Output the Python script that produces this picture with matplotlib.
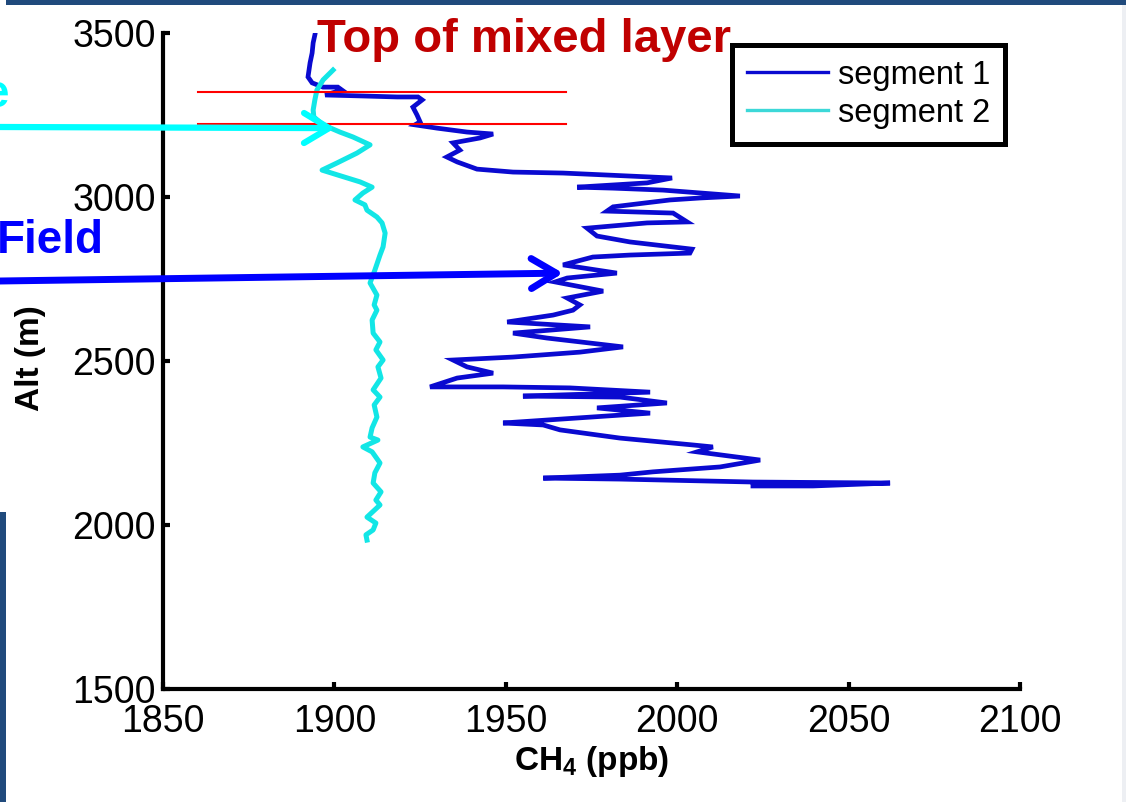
import matplotlib
matplotlib.use("Agg")
import matplotlib.pyplot as plt
from matplotlib.patches import Rectangle
from matplotlib.lines import Line2D

plt.rcParams['font.family'] = ['Liberation Sans', 'DejaVu Sans']
plt.rcParams['mathtext.default'] = 'regular'

# segment 1 profile (CH4 ppb vs altitude m), read top -> bottom
seg1_ch4 = [1894.3, 1893.8, 1893.5, 1892.9, 1892.3, 1893.5, 1896.7, 1901.0, 1902.2, 1897.3,
            1908.3, 1918.3, 1924.4, 1925.6, 1922.9, 1924.1, 1925.0, 1923.5, 1929.9, 1938.7,
            1946.3, 1942.5, 1934.6, 1936.6, 1932.8, 1935.8, 1941.6, 1952.1, 1966.7, 1979.5,
            1998.5, 1991.2, 1970.8, 1981.3, 1995.9, 2018.3, 2006.7, 1997.9, 1981.3, 1979.5,
            1998.8, 2002.9, 1991.2, 1973.7, 1976.6, 1986.2, 2004.3, 2003.7, 1986.2, 1975.4,
            1966.7, 1982.4, 1967.9, 1964.4, 1978.4, 1967.9, 1971.6, 1969.6, 1963.8, 1950.4,
            1974.6, 1952.1, 1962.0, 1984.2, 1971.6, 1952.1, 1934.6, 1938.7, 1946.3, 1935.8,
            1927.9, 1949.2, 1968.7, 1992.1, 1955.0, 1983.3, 1997.0, 1976.6, 1992.1, 1983.3,
            1949.2, 1960.9, 1965.8, 1983.3, 2004.6, 2010.4, 2005.8, 2024.2, 2012.5, 1992.9,
            1983.3, 1960.9, 1983.3, 2022.1, 2062.1, 2039.6, 2022.1]
seg1_alt = [3494, 3470, 3439, 3409, 3366, 3348, 3335, 3335, 3326, 3311,
            3308, 3305, 3305, 3296, 3274, 3250, 3229, 3220, 3210, 3198,
            3192, 3180, 3165, 3143, 3122, 3107, 3085, 3076, 3073, 3067,
            3058, 3043, 3030, 3027, 3021, 3003, 2997, 2991, 2970, 2957,
            2951, 2924, 2921, 2905, 2881, 2863, 2841, 2829, 2823, 2817,
            2793, 2768, 2753, 2741, 2713, 2692, 2671, 2655, 2640, 2619,
            2604, 2585, 2570, 2543, 2527, 2512, 2503, 2482, 2463, 2448,
            2421, 2421, 2418, 2405, 2393, 2390, 2372, 2357, 2341, 2335,
            2311, 2305, 2290, 2265, 2244, 2238, 2223, 2198, 2177, 2162,
            2152, 2143, 2140, 2131, 2128, 2119, 2119]

# segment 2 profile
seg2_ch4 = [1899.6, 1896.7, 1894.9, 1894.3, 1893.8, 1894.0, 1896.7, 1901.6, 1905.4, 1910.4,
            1906.6, 1900.8, 1896.4, 1901.0, 1907.5, 1911.0, 1908.3, 1906.0, 1908.9, 1909.5,
            1912.4, 1913.9, 1914.8, 1914.2, 1913.3, 1911.8, 1910.4, 1912.4, 1911.6, 1912.4,
            1911.0, 1911.3, 1913.3, 1912.1, 1914.2, 1912.7, 1913.6, 1911.3, 1913.3, 1911.6,
            1912.4, 1911.0, 1910.4, 1912.7, 1908.3, 1911.0, 1913.3, 1911.8, 1911.3, 1913.6,
            1912.1, 1913.3, 1909.5, 1912.1, 1911.3, 1909.2, 1909.5]
seg2_alt = [3387, 3357, 3326, 3296, 3265, 3244, 3220, 3198, 3183, 3159,
            3134, 3104, 3082, 3067, 3046, 3030, 3012, 2991, 2976, 2960,
            2939, 2921, 2890, 2848, 2823, 2777, 2738, 2701, 2671, 2655,
            2625, 2585, 2558, 2534, 2503, 2482, 2448, 2412, 2390, 2366,
            2329, 2296, 2268, 2259, 2238, 2223, 2189, 2159, 2128, 2101,
            2076, 2061, 2024, 2006, 1985, 1970, 1954]

labels = ['segment 1', 'segment 2']
mixed_layer_alt = [3320, 3223]
mixed_layer_x = [1860.2, 1967.6]

W, H = 1126, 802
fig = plt.figure(figsize=(W / 100, H / 100), dpi=100)
fig.patch.set_facecolor('white')

# slide border bits
navy = '#204A7C'
fig.add_artist(Rectangle((6 / W, 1 - 5 / H), 1, 5 / H, transform=fig.transFigure, color=navy, lw=0))
fig.add_artist(Rectangle((0, 0), 6 / W, 290 / H, transform=fig.transFigure, color=navy, lw=0))
fig.add_artist(Rectangle((1122 / W, 0), 4 / W, 1 - 5 / H, transform=fig.transFigure, color='#EDEFF3', lw=0))

ax = fig.add_axes([163 / W, 1 - 689 / H, 857 / W, 656 / H])
ax.plot(seg1_ch4, seg1_alt, color='#0A0AD0', lw=3.4, solid_joinstyle='miter')
ax.plot(seg2_ch4, seg2_alt, color='#12E6E6', lw=3.6)

for a in mixed_layer_alt:
    ax.plot(mixed_layer_x, [a, a], color='#FF0000', lw=1.5)

ax.set_xlim(1850, 2100)
ax.set_ylim(1500, 3500)
ax.set_xticks([1850, 1900, 1950, 2000, 2050, 2100])
ax.set_yticks([1500, 2000, 2500, 3000, 3500])
for s in ['top', 'right']:
    ax.spines[s].set_visible(False)
for s in ['left', 'bottom']:
    ax.spines[s].set_linewidth(3)
    ax.spines[s].set_capstyle('projecting')
ax.tick_params(direction='in', length=5, width=3, labelsize=27)
ax.tick_params(axis='x', pad=10.5)
ax.tick_params(axis='y', pad=5)

ax.set_xlabel(r'CH$_4$ (ppb)', fontsize=24, fontweight='bold')
ax.set_ylabel('Alt (m)', fontsize=24, fontweight='bold')
ax.xaxis.set_label_coords(0.5, -0.084)
ax.yaxis.set_label_coords(-0.137, 0.505)

handles = [Line2D([], [], color='#0A0AD0', lw=2.4), Line2D([], [], color='#3CD8D8', lw=2.4)]
leg = fig.legend(handles, labels, loc='upper left', bbox_to_anchor=(732 / W, 1 - 45 / H),
                 bbox_transform=fig.transFigure, borderaxespad=0, fontsize=23.5,
                 handlelength=2.5, handletextpad=0.3, labelspacing=0.22,
                 borderpad=0.45, fancybox=False, framealpha=1)
leg.get_frame().set_edgecolor('black')
leg.get_frame().set_linewidth(3.6)

# annotations
fig.text(317 / W, 1 - 52 / H, 'Top of mixed layer', color='#C00000', fontsize=34,
         fontweight='bold', va='baseline', ha='left')
fig.text(104 / W, 1 - 253 / H, 'Field', color='#0000FF', fontsize=33,
         fontweight='bold', va='baseline', ha='right')
fig.text(9 / W, 1 - 107 / H, 'e', color='#00FFFF', fontsize=33,
         fontweight='bold', va='baseline', ha='right')

ax.annotate('', xy=(1900.2, 3210), xycoords='data', xytext=(0, 1 - 127 / H),
            textcoords='figure fraction', annotation_clip=False, zorder=10,
            arrowprops=dict(arrowstyle='->, head_length=1.0, head_width=0.6', color='#00FFFF',
                            lw=4.5, mutation_scale=18, shrinkA=0, shrinkB=0,
                            capstyle='round', joinstyle='round'))
ax.annotate('', xy=(1966.7, 2768), xycoords='data', xytext=(0, 1 - 281 / H),
            textcoords='figure fraction', annotation_clip=False, zorder=10,
            arrowprops=dict(arrowstyle='->, head_length=1.0, head_width=0.6', color='#0000FF',
                            lw=5, mutation_scale=18, shrinkA=0, shrinkB=0,
                            capstyle='round', joinstyle='round'))

fig.savefig('out.png', dpi=100)
